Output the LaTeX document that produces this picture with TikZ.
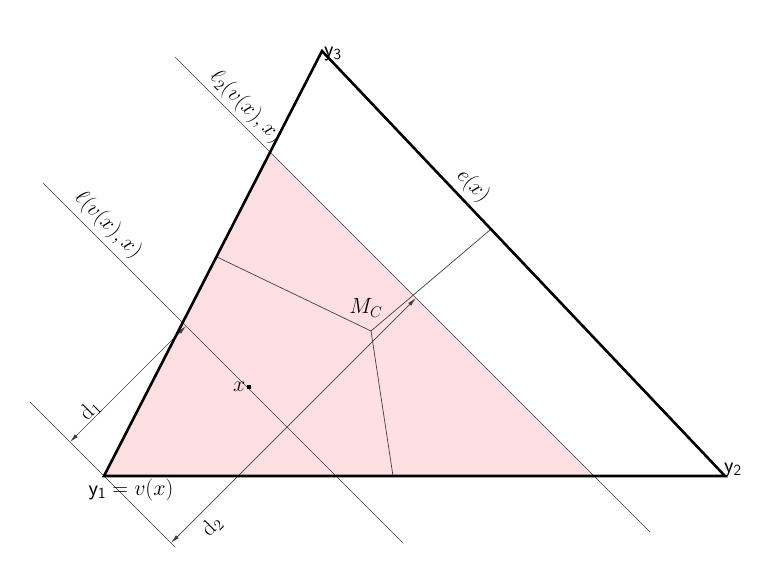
\RequirePackage{fix-cm}
\documentclass[tikz,border=0pt]{standalone}
\usepackage{amsmath}
\usetikzlibrary{arrows.meta}
\definecolor{pinkfill}{RGB}{255,224,226}
\begin{document}
\begin{tikzpicture}[x=1pt,y=-1pt,
  every node/.style={font=\fontsize{22}{26}\selectfont, inner sep=1pt},
  thinline/.style={line width=0.7pt, draw=black!75},
  edgeline/.style={line width=2.6pt, draw=black, line join=miter},
  darrow/.style={thinline, {Latex[length=9pt,width=4pt]}-{Latex[length=9pt,width=4pt]}}]
\useasboundingbox (0,0) rectangle (760,583);
% vertices
\coordinate (y1) at (104,476);
\coordinate (y2) at (725,476);
\coordinate (y3) at (322,51);
% pink region
\coordinate (p1) at (270,152);
\coordinate (p2) at (594,476);
\fill[pinkfill] (y1) -- (p1) -- (p2) -- cycle;
% lines
\coordinate (l2a) at (175,57);
\coordinate (l2b) at (650,532);
\coordinate (la) at (43,183);
\coordinate (lb) at (403,543);
\coordinate (lya) at (30,402);
\coordinate (lyb) at (175,547);
\draw[thinline] (l2a) -- (l2b);
\draw[thinline] (la) -- (lb);
\draw[thinline] (lya) -- (lyb);
% Voronoi-like edges
\coordinate (mc) at (371,331);
\coordinate (ea) at (217,257);
\coordinate (eb) at (393,476);
\coordinate (ec) at (490,230);
\draw[thinline] (mc) -- (ea);
\draw[thinline] (mc) -- (eb);
\draw[thinline] (mc) -- (ec);
% distance arrows
\coordinate (d1a) at (70,442);
\coordinate (d1b) at (186,326);
\coordinate (d2a) at (171,543);
\coordinate (d2b) at (416,298);
\draw[darrow] (d1a) -- (d1b);
\draw[darrow] (d2a) -- (d2b);
% triangle
\draw[edgeline] (y1) -- (y2) -- (y3) -- cycle;
% point x
\node[fill=black, minimum size=4.5pt, inner sep=0pt] (xpt) at (249,387) {};
\node[anchor=east] (xlbl) at (xpt.west) {$x$};
% labels
\node[anchor=west] (ly3) at (323,54) {$\mathsf{y}_\mathsf{3}$};
\node[anchor=south west, inner sep=0pt] (ly2) at (724,477) {$\mathsf{y}_\mathsf{2}$};
\node (ly1) at (131,490) {$\mathsf{y}_\mathsf{1}=v(x)$};
\node (lmc) at (366,308) {$M_C$};
\node[rotate=-46.5] (lex) at (473,186) {$e(x)$};
\node[rotate=-45] (ll2) at (246,107) {$\ell_2(v(x),x)$};
\node[rotate=-45] (ll) at (108,225) {$\ell(v(x),x)$};
\node[rotate=45] (ld1) at (90,410) {$\mathrm{d}_1$};
\node[rotate=45] (ld2) at (212,526) {$\mathrm{d}_2$};
\end{tikzpicture}
\end{document}
